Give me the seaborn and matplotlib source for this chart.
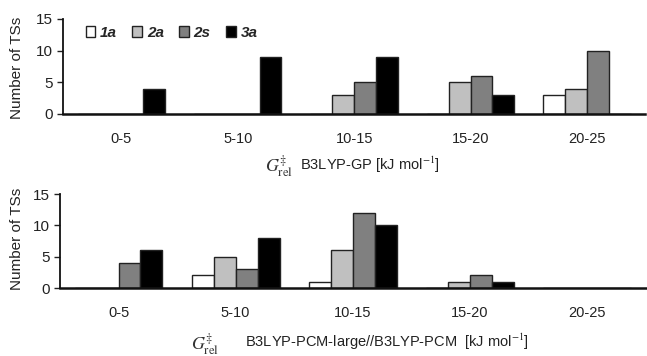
import numpy as np
import pandas as pd
import matplotlib.pyplot as plt
import seaborn as sns

# data
bins = ["0-5", "5-10", "10-15", "15-20", "20-25"]
species = ["1a", "2a", "2s", "3a"]
gp_1a = [0, 0, 0, 0, 3]
gp_2a = [0, 0, 3, 5, 4]
gp_2s = [0, 0, 5, 6, 10]
gp_3a = [4, 9, 9, 3, 0]
pcm_1a = [0, 2, 1, 0, 0]
pcm_2a = [0, 5, 6, 1, 0]
pcm_2s = [4, 3, 12, 2, 0]
pcm_3a = [6, 8, 10, 1, 0]
colors = ["#ffffff", "#c0c0c0", "#808080", "#000000"]


def long_table(cols):
    rows = []
    for sp, vals in zip(species, cols):
        for b, v in zip(bins, vals):
            rows.append({"bin": b, "species": sp, "count": v})
    return pd.DataFrame(rows)


sns.set_style("white")
plt.rcParams['font.family'] = ['Liberation Sans', 'DejaVu Sans']
plt.rcParams['mathtext.fontset'] = 'stix'

fig = plt.figure(figsize=(6.47, 3.56), dpi=100)
ax1 = fig.add_axes([0.0974, 0.680, 0.9, 0.267])
ax2 = fig.add_axes([0.0927, 0.191, 0.905, 0.264])


def draw(ax, df, legend):
    sns.barplot(data=df, x="bin", y="count", hue="species", order=bins,
                hue_order=species, palette=colors, width=0.75,
                edgecolor="#222222", linewidth=1.0, legend=legend, ax=ax)
    ax.set_xlim(-0.5, 4.5)
    ax.set_ylim(0, 15)
    ax.set_yticks([0, 5, 10, 15])
    ax.set_xlabel("")
    ax.set_ylabel("")
    ax.set_xticks(np.arange(0.5, 4.5, 1), minor=True)
    ax.tick_params(axis="x", which="major", length=0, labelsize=10.5, pad=13, colors="#222222")
    ax.tick_params(axis="x", which="minor", length=4, width=0.6, direction="out", color="#999999")
    ax.tick_params(axis="y", length=4, width=1, labelsize=11, direction="out", left=True, colors="#222222")
    for s in ["top", "right"]:
        ax.spines[s].set_visible(False)
    ax.spines["left"].set_linewidth(1.3)
    ax.spines["bottom"].set_linewidth(1.8)
    ax.spines["left"].set_color("#111111")
    ax.spines["bottom"].set_color("#111111")


draw(ax1, long_table([gp_1a, gp_2a, gp_2s, gp_3a]), True)
draw(ax2, long_table([pcm_1a, pcm_2a, pcm_2s, pcm_3a]), False)

leg = ax1.legend(loc="upper left", bbox_to_anchor=(0.015, 1.07), ncol=4, frameon=False,
                 handlelength=0.65, handleheight=0.65, handletextpad=0.3, columnspacing=1.0,
                 prop={"weight": "bold", "style": "italic", "size": 11})

# y labels
fig.text(0.027, 0.81, "Number of TSs", rotation=90, ha="center", va="center",
         fontsize=11, color="#222222")
fig.text(0.027, 0.33, "Number of TSs", rotation=90, ha="center", va="center",
         fontsize=11, color="#222222")

# x labels
fig.text(0.41, 0.515, r"$G^{\ddagger}_{\rm rel}$", fontsize=13, color="#333333")
fig.text(0.463, 0.523, r"B3LYP-GP [kJ mol$^{-1}$]", fontsize=10.5, color="#222222")
fig.text(0.295, 0.016, r"$G^{\ddagger}_{\rm rel}$", fontsize=13, color="#333333")
fig.text(0.378, 0.024, r"B3LYP-PCM-large//B3LYP-PCM  [kJ mol$^{-1}$]", fontsize=10.5, color="#222222")

fig.savefig("out.png", dpi=100)
